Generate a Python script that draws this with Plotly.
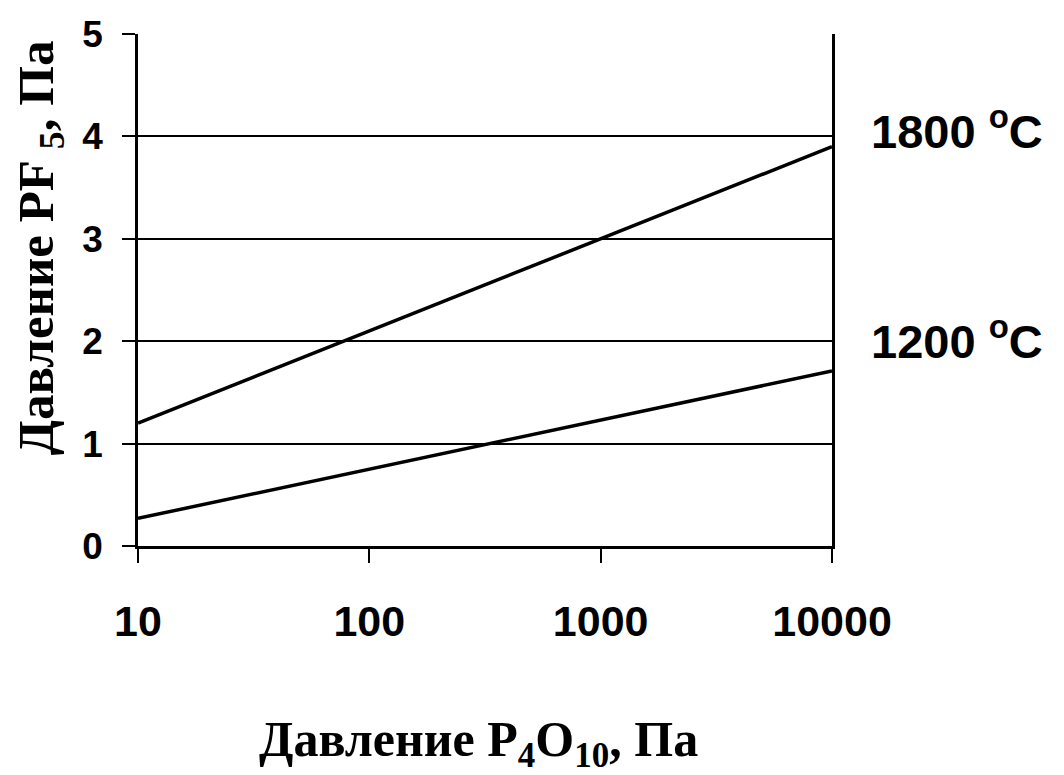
import plotly.graph_objects as go

x_vals = [10, 100, 1000, 10000]
y_1800 = [1.2, 2.1, 3.0, 3.9]
y_1200 = [0.27, 0.75, 1.23, 1.71]
x_ticks = [10, 100, 1000, 10000]
x_ticklabels = ["10", "100", "1000", "10000"]
y_ticks = [0, 1, 2, 3, 4, 5]
series_labels = ["1800 <sup>o</sup>C", "1200 <sup>o</sup>C"]
label_y = [4.08, 2.03]
x_title = "Давление P<sub>4</sub>O<sub>10</sub>, Па"
y_title = "Давление PF <sub>5</sub>, Па"

fig = go.Figure()
for ys in (y_1800, y_1200):
    fig.add_trace(go.Scatter(x=x_vals, y=ys, mode="lines",
                             line=dict(color="black", width=3.5),
                             showlegend=False, hoverinfo="skip"))

for txt, yy in zip(series_labels, label_y):
    fig.add_annotation(x=1.0535, y=yy, xref="paper", yref="y", text="<b>%s</b>" % txt,
                       showarrow=False, xanchor="left", yanchor="middle",
                       font=dict(family="Arial, Liberation Sans", size=47, color="black"))

fig.add_annotation(x=0.49, y=-0.385, xref="paper", yref="paper",
                   text="<b>%s</b>" % x_title, showarrow=False,
                   xanchor="center", yanchor="middle",
                   font=dict(family="Liberation Serif, Times New Roman", size=50, color="black"))
fig.add_annotation(x=-0.141, y=0.582, xref="paper", yref="paper",
                   text="<b>%s</b>" % y_title, showarrow=False, textangle=-90,
                   xanchor="center", yanchor="middle",
                   font=dict(family="Liberation Serif, Times New Roman", size=51, color="black"))

fig.update_layout(
    width=1064, height=775,
    margin=dict(l=138, r=232, t=34, b=229),
    plot_bgcolor="white", paper_bgcolor="white",
    font=dict(color="black"),
)
fig.update_xaxes(
    type="log", range=[1, 4],
    tickvals=x_ticks, ticktext=["<b>%s</b>" % t for t in x_ticklabels],
    tickfont=dict(family="Arial, Liberation Sans", size=43, color="black"),
    ticks="outside", ticklen=14, tickwidth=2, tickcolor="black",
    showline=True, linecolor="black", linewidth=2.5,
    showgrid=False, zeroline=False, ticklabelstandoff=22,
)
fig.update_yaxes(
    range=[0, 5], tickvals=y_ticks,
    ticktext=["<b>%d</b>" % v for v in y_ticks],
    tickfont=dict(family="Arial, Liberation Sans", size=37, color="black"),
    ticks="outside", ticklen=13, tickwidth=2, tickcolor="black",
    showline=True, mirror=True, linecolor="black", linewidth=2.5,
    showgrid=True, gridcolor="black", gridwidth=2,
    zeroline=False, ticklabelstandoff=12,
)
fig.write_html("out.html")
